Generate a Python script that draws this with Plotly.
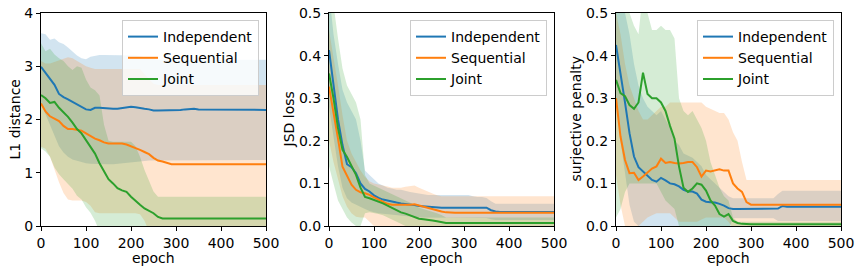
import plotly.graph_objects as go

# ---------------- data ----------------
epochs = list(range(0, 501, 10))
series_names = ["Independent", "Sequential", "Joint"]

# Panel 1: L1 distance
l1_ind_mean = [2.99, 2.88, 2.78, 2.65, 2.48, 2.42, 2.38, 2.33, 2.28, 2.23, 2.19, 2.18, 2.22, 2.22, 2.21, 2.20, 2.20, 2.20, 2.21, 2.23, 2.24, 2.23, 2.21, 2.20, 2.19, 2.17, 2.17, 2.17, 2.17, 2.17, 2.17, 2.18, 2.19, 2.20, 2.20, 2.19, 2.19, 2.18, 2.18, 2.18, 2.18, 2.18, 2.18, 2.18, 2.18, 2.18, 2.18, 2.18, 2.18, 2.18, 2.18]
l1_ind_up = [3.62, 3.60, 3.50, 3.52, 3.45, 3.42, 3.35, 3.28, 3.20, 3.15, 3.13, 3.18, 3.20, 3.21, 3.21, 3.21, 3.21, 3.21, 3.21, 3.21, 3.21, 3.20, 3.19, 3.17, 3.15, 3.13, 3.12, 3.12, 3.12, 3.12, 3.12, 3.12, 3.12, 3.12, 3.12, 3.12, 3.12, 3.12, 3.12, 3.12, 3.12, 3.12, 3.12, 3.12, 3.12, 3.12, 3.12, 3.12, 3.12, 3.12, 3.12]
l1_ind_lo = [2.30, 2.10, 1.90, 1.70, 1.50, 1.38, 1.30, 1.25, 1.22, 1.20, 1.18, 1.17, 1.16, 1.16, 1.16, 1.16, 1.16, 1.16, 1.17, 1.18, 1.19, 1.20, 1.21, 1.22, 1.23, 1.24, 1.24, 1.24, 1.24, 1.24, 1.24, 1.24, 1.24, 1.24, 1.24, 1.24, 1.24, 1.24, 1.24, 1.24, 1.24, 1.24, 1.24, 1.24, 1.24, 1.24, 1.24, 1.24, 1.24, 1.24, 1.24]
l1_seq_mean = [2.30, 2.15, 2.06, 2.02, 1.97, 1.88, 1.82, 1.82, 1.80, 1.79, 1.74, 1.69, 1.64, 1.61, 1.57, 1.55, 1.55, 1.55, 1.55, 1.53, 1.50, 1.47, 1.43, 1.39, 1.35, 1.28, 1.23, 1.21, 1.18, 1.16, 1.16, 1.16, 1.16, 1.16, 1.16, 1.16, 1.16, 1.16, 1.16, 1.16, 1.16, 1.16, 1.16, 1.16, 1.16, 1.16, 1.16, 1.16, 1.16, 1.16, 1.16]
l1_seq_up = [3.10, 3.05, 3.05, 3.08, 3.10, 3.14, 3.17, 3.15, 3.10, 3.05, 3.00, 2.97, 2.95, 2.95, 2.95, 2.95, 2.95, 2.95, 2.95, 2.95, 2.95, 2.95, 2.95, 2.85, 2.75, 2.67, 2.65, 2.65, 2.65, 2.65, 2.65, 2.65, 2.65, 2.65, 2.65, 2.65, 2.65, 2.65, 2.65, 2.65, 2.65, 2.65, 2.65, 2.65, 2.65, 2.65, 2.65, 2.65, 2.65, 2.65, 2.65]
l1_seq_lo = [1.49, 1.45, 1.30, 1.05, 0.82, 0.62, 0.50, 0.48, 0.48, 0.48, 0.45, 0.38, 0.26, 0.24, 0.24, 0.24, 0.24, 0.24, 0.24, 0.24, 0.24, 0.24, 0.22, 0.10, -0.10, -0.30, -0.33, -0.33, -0.33, -0.33, -0.33, -0.33, -0.33, -0.33, -0.33, -0.33, -0.33, -0.33, -0.33, -0.33, -0.33, -0.33, -0.33, -0.33, -0.33, -0.33, -0.33, -0.33, -0.33, -0.33, -0.33]
l1_joi_mean = [2.46, 2.40, 2.31, 2.33, 2.22, 2.14, 2.05, 1.94, 1.82, 1.74, 1.62, 1.48, 1.36, 1.18, 1.02, 0.88, 0.80, 0.71, 0.67, 0.64, 0.55, 0.47, 0.40, 0.33, 0.29, 0.24, 0.17, 0.14, 0.14, 0.14, 0.14, 0.14, 0.14, 0.14, 0.14, 0.14, 0.14, 0.14, 0.14, 0.14, 0.14, 0.14, 0.14, 0.14, 0.14, 0.14, 0.14, 0.14, 0.14, 0.14, 0.14]
l1_joi_up = [3.43, 3.28, 3.33, 3.22, 3.15, 3.10, 3.00, 2.93, 3.00, 2.97, 2.75, 2.60, 2.55, 2.45, 1.90, 1.60, 1.58, 1.58, 1.58, 1.58, 1.58, 1.50, 1.30, 1.05, 0.85, 0.65, 0.55, 0.55, 0.55, 0.55, 0.55, 0.55, 0.55, 0.55, 0.55, 0.55, 0.55, 0.55, 0.55, 0.55, 0.55, 0.55, 0.55, 0.55, 0.55, 0.55, 0.55, 0.55, 0.55, 0.55, 0.55]
l1_joi_lo = [1.46, 1.40, 1.30, 1.10, 0.97, 0.88, 0.80, 0.70, 0.57, 0.50, 0.35, 0.25, 0.10, -0.10, -0.27, -0.27, -0.27, -0.27, -0.27, -0.27, -0.27, -0.27, -0.27, -0.27, -0.27, -0.27, -0.27, -0.27, -0.27, -0.27, -0.27, -0.27, -0.27, -0.27, -0.27, -0.27, -0.27, -0.27, -0.27, -0.27, -0.27, -0.27, -0.27, -0.27, -0.27, -0.27, -0.27, -0.27, -0.27, -0.27, -0.27]

# Panel 2: JSD loss
jsd_ind_mean = [0.413, 0.33, 0.25, 0.19, 0.145, 0.138, 0.124, 0.10, 0.087, 0.081, 0.072, 0.066, 0.062, 0.060, 0.057, 0.055, 0.053, 0.052, 0.051, 0.049, 0.047, 0.046, 0.045, 0.044, 0.043, 0.043, 0.043, 0.043, 0.043, 0.043, 0.043, 0.043, 0.043, 0.043, 0.043, 0.043, 0.037, 0.034, 0.033, 0.033, 0.033, 0.033, 0.033, 0.033, 0.033, 0.033, 0.033, 0.033, 0.033, 0.033, 0.033]
jsd_ind_up = [0.55, 0.45, 0.38, 0.32, 0.29, 0.27, 0.25, 0.20, 0.13, 0.12, 0.11, 0.10, 0.095, 0.09, 0.088, 0.085, 0.085, 0.082, 0.08, 0.078, 0.076, 0.074, 0.073, 0.073, 0.073, 0.073, 0.073, 0.073, 0.073, 0.073, 0.073, 0.073, 0.07, 0.068, 0.068, 0.066, 0.058, 0.052, 0.052, 0.052, 0.052, 0.052, 0.052, 0.052, 0.052, 0.052, 0.052, 0.052, 0.052, 0.052, 0.052]
jsd_ind_lo = [0.28, 0.21, 0.14, 0.09, 0.065, 0.055, 0.05, 0.045, 0.04, 0.035, 0.032, 0.03, 0.028, 0.027, 0.026, 0.025, 0.024, 0.023, 0.022, 0.021, 0.02, 0.019, 0.019, 0.019, 0.019, 0.019, 0.019, 0.019, 0.019, 0.019, 0.019, 0.019, 0.019, 0.019, 0.019, 0.019, 0.016, 0.014, 0.014, 0.014, 0.014, 0.014, 0.014, 0.014, 0.014, 0.014, 0.014, 0.014, 0.014, 0.014, 0.014]
jsd_seq_mean = [0.327, 0.27, 0.205, 0.139, 0.118, 0.097, 0.085, 0.079, 0.077, 0.073, 0.067, 0.062, 0.056, 0.052, 0.050, 0.050, 0.049, 0.049, 0.050, 0.051, 0.048, 0.045, 0.043, 0.040, 0.037, 0.034, 0.032, 0.031, 0.031, 0.031, 0.031, 0.031, 0.031, 0.031, 0.031, 0.031, 0.031, 0.031, 0.031, 0.031, 0.031, 0.031, 0.031, 0.031, 0.031, 0.031, 0.031, 0.031, 0.031, 0.031, 0.031]
jsd_seq_up = [0.46, 0.40, 0.33, 0.26, 0.20, 0.17, 0.15, 0.13, 0.115, 0.105, 0.10, 0.097, 0.095, 0.093, 0.09, 0.09, 0.09, 0.092, 0.093, 0.095, 0.09, 0.085, 0.08, 0.076, 0.072, 0.07, 0.07, 0.07, 0.07, 0.07, 0.07, 0.07, 0.07, 0.07, 0.07, 0.07, 0.07, 0.07, 0.07, 0.07, 0.07, 0.07, 0.07, 0.07, 0.07, 0.07, 0.07, 0.07, 0.07, 0.07, 0.07]
jsd_seq_lo = [0.20, 0.15, 0.11, 0.07, 0.045, 0.03, 0.022, 0.02, 0.02, 0.01, 0.0, -0.005, -0.008, -0.008, -0.008, -0.008, -0.008, -0.008, -0.008, -0.008, -0.008, -0.008, -0.008, -0.008, -0.008, -0.008, -0.008, -0.008, -0.008, -0.008, -0.008, -0.008, -0.008, -0.008, -0.008, -0.008, -0.008, -0.008, -0.008, -0.008, -0.008, -0.008, -0.008, -0.008, -0.008, -0.008, -0.008, -0.008, -0.008, -0.008, -0.008]
jsd_joi_mean = [0.358, 0.30, 0.23, 0.179, 0.162, 0.142, 0.12, 0.09, 0.068, 0.065, 0.061, 0.058, 0.053, 0.048, 0.043, 0.037, 0.032, 0.029, 0.025, 0.020, 0.017, 0.016, 0.015, 0.013, 0.011, 0.009, 0.007, 0.007, 0.007, 0.007, 0.007, 0.007, 0.007, 0.007, 0.007, 0.007, 0.007, 0.007, 0.007, 0.007, 0.007, 0.007, 0.007, 0.007, 0.007, 0.007, 0.007, 0.007, 0.007, 0.007, 0.007]
jsd_joi_up = [0.62, 0.52, 0.44, 0.37, 0.33, 0.31, 0.29, 0.25, 0.12, 0.10, 0.095, 0.09, 0.085, 0.08, 0.075, 0.07, 0.065, 0.06, 0.055, 0.05, 0.043, 0.04, 0.037, 0.033, 0.03, 0.026, 0.02, 0.02, 0.02, 0.02, 0.02, 0.02, 0.02, 0.02, 0.02, 0.02, 0.02, 0.02, 0.02, 0.02, 0.02, 0.02, 0.02, 0.02, 0.02, 0.02, 0.02, 0.02, 0.02, 0.02, 0.02]
jsd_joi_lo = [0.14, 0.10, 0.06, 0.04, 0.02, 0.008, 0.0, 0.0, 0.03, 0.032, 0.03, 0.028, 0.025, 0.02, 0.015, 0.01, 0.005, 0.0, -0.005, -0.005, -0.005, -0.005, -0.005, -0.005, -0.005, -0.005, -0.005, -0.005, -0.005, -0.005, -0.005, -0.005, -0.005, -0.005, -0.005, -0.005, -0.005, -0.005, -0.005, -0.005, -0.005, -0.005, -0.005, -0.005, -0.005, -0.005, -0.005, -0.005, -0.005, -0.005, -0.005]

# Panel 3: surjective penalty
sp_ind_mean = [0.425, 0.36, 0.29, 0.218, 0.163, 0.138, 0.128, 0.12, 0.108, 0.104, 0.113, 0.107, 0.10, 0.098, 0.093, 0.085, 0.081, 0.081, 0.076, 0.062, 0.057, 0.056, 0.055, 0.052, 0.048, 0.042, 0.04, 0.04, 0.04, 0.04, 0.04, 0.04, 0.04, 0.04, 0.04, 0.04, 0.041, 0.047, 0.045, 0.045, 0.045, 0.045, 0.045, 0.045, 0.045, 0.045, 0.045, 0.045, 0.045, 0.045, 0.045]
sp_ind_up = [0.55, 0.52, 0.50, 0.45, 0.38, 0.33, 0.30, 0.28, 0.27, 0.26, 0.27, 0.25, 0.23, 0.20, 0.19, 0.17, 0.165, 0.16, 0.15, 0.14, 0.12, 0.11, 0.10, 0.09, 0.08, 0.07, 0.065, 0.065, 0.065, 0.065, 0.065, 0.065, 0.065, 0.065, 0.065, 0.065, 0.075, 0.083, 0.083, 0.083, 0.083, 0.083, 0.083, 0.083, 0.083, 0.083, 0.083, 0.083, 0.083, 0.083, 0.083]
sp_ind_lo = [0.30, 0.20, 0.12, 0.05, 0.01, 0.0, -0.01, -0.02, -0.02, -0.02, -0.02, -0.02, -0.02, -0.02, -0.01, -0.01, -0.01, -0.01, -0.01, -0.01, -0.01, -0.01, -0.01, -0.01, -0.01, -0.01, 0.018, 0.018, 0.018, 0.018, 0.018, 0.018, 0.018, 0.018, 0.018, 0.018, 0.012, 0.012, 0.012, 0.012, 0.012, 0.012, 0.012, 0.012, 0.012, 0.012, 0.012, 0.012, 0.012, 0.012, 0.012]
sp_seq_mean = [0.30, 0.21, 0.155, 0.124, 0.125, 0.108, 0.116, 0.125, 0.135, 0.14, 0.158, 0.148, 0.15, 0.148, 0.147, 0.148, 0.15, 0.15, 0.138, 0.116, 0.13, 0.128, 0.13, 0.133, 0.13, 0.13, 0.10, 0.088, 0.08, 0.056, 0.05, 0.05, 0.05, 0.05, 0.05, 0.05, 0.05, 0.05, 0.05, 0.05, 0.05, 0.05, 0.05, 0.05, 0.05, 0.05, 0.05, 0.05, 0.05, 0.05, 0.05]
sp_seq_up = [0.50, 0.45, 0.38, 0.33, 0.30, 0.27, 0.25, 0.25, 0.26, 0.27, 0.28, 0.28, 0.29, 0.29, 0.29, 0.29, 0.29, 0.29, 0.29, 0.29, 0.28, 0.275, 0.27, 0.265, 0.265, 0.25, 0.22, 0.20, 0.15, 0.108, 0.108, 0.108, 0.108, 0.108, 0.108, 0.108, 0.108, 0.108, 0.108, 0.108, 0.108, 0.108, 0.108, 0.108, 0.108, 0.108, 0.108, 0.108, 0.108, 0.108, 0.108]
sp_seq_lo = [0.12, 0.05, 0.0, -0.02, -0.02, 0.0, 0.01, 0.02, 0.025, 0.03, 0.03, 0.03, 0.03, 0.02, 0.01, 0.01, 0.01, 0.01, 0.01, 0.015, 0.02, 0.02, 0.02, 0.02, 0.02, 0.01, -0.005, -0.005, -0.005, -0.005, -0.005, -0.005, -0.005, -0.005, -0.005, -0.005, -0.005, -0.005, -0.005, -0.005, -0.005, -0.005, -0.005, -0.005, -0.005, -0.005, -0.005, -0.005, -0.005, -0.005, -0.005]
sp_joi_mean = [0.343, 0.312, 0.305, 0.284, 0.275, 0.29, 0.36, 0.31, 0.30, 0.30, 0.29, 0.27, 0.235, 0.205, 0.14, 0.09, 0.08, 0.088, 0.10, 0.097, 0.083, 0.06, 0.048, 0.028, 0.022, 0.028, 0.012, 0.007, 0.005, 0.004, 0.004, 0.004, 0.004, 0.004, 0.004, 0.004, 0.004, 0.004, 0.004, 0.004, 0.004, 0.004, 0.004, 0.004, 0.004, 0.004, 0.004, 0.004, 0.004, 0.004, 0.004]
sp_joi_up = [0.50, 0.52, 0.55, 0.50, 0.47, 0.45, 0.55, 0.50, 0.46, 0.46, 0.47, 0.46, 0.46, 0.44, 0.30, 0.27, 0.26, 0.27, 0.25, 0.23, 0.20, 0.15, 0.12, 0.09, 0.07, 0.06, 0.02, 0.01, 0.01, 0.01, 0.01, 0.01, 0.01, 0.01, 0.01, 0.01, 0.01, 0.01, 0.01, 0.01, 0.01, 0.01, 0.01, 0.01, 0.01, 0.01, 0.01, 0.01, 0.01, 0.01, 0.01]
sp_joi_lo = [0.02, 0.04, 0.08, 0.10, 0.10, 0.10, 0.10, 0.10, 0.10, 0.10, 0.08, 0.06, 0.05, 0.04, 0.0, -0.01, -0.01, -0.01, -0.01, -0.01, -0.01, -0.01, -0.01, -0.01, -0.01, -0.01, -0.003, -0.003, -0.003, -0.003, -0.003, -0.003, -0.003, -0.003, -0.003, -0.003, -0.003, -0.003, -0.003, -0.003, -0.003, -0.003, -0.003, -0.003, -0.003, -0.003, -0.003, -0.003, -0.003, -0.003, -0.003]

y_titles = ["L1 distance", "JSD loss", "surjective penalty"]
x_title = "epoch"
l1_ticks = [0, 1, 2, 3, 4]
small_ticks = [0.0, 0.1, 0.2, 0.3, 0.4, 0.5]
x_ticks = [0, 100, 200, 300, 400, 500]

# ---------------- styling ----------------
colors = ["#1f77b4", "#ff7f0e", "#2ca02c"]
fills = ["rgba(31,119,180,0.2)", "rgba(255,127,14,0.2)", "rgba(44,160,44,0.2)"]
FONT = "DejaVu Sans"

panels = [
    dict(means=[l1_ind_mean, l1_seq_mean, l1_joi_mean], ups=[l1_ind_up, l1_seq_up, l1_joi_up],
         los=[l1_ind_lo, l1_seq_lo, l1_joi_lo], yrange=[0, 4], ticks=l1_ticks, fmt="d"),
    dict(means=[jsd_ind_mean, jsd_seq_mean, jsd_joi_mean], ups=[jsd_ind_up, jsd_seq_up, jsd_joi_up],
         los=[jsd_ind_lo, jsd_seq_lo, jsd_joi_lo], yrange=[0, 0.5], ticks=small_ticks, fmt=".1f"),
    dict(means=[sp_ind_mean, sp_seq_mean, sp_joi_mean], ups=[sp_ind_up, sp_seq_up, sp_joi_up],
         los=[sp_ind_lo, sp_seq_lo, sp_joi_lo], yrange=[0, 0.5], ticks=small_ticks, fmt=".1f"),
]

# page body margin is removed (post_script), so pixel positions are page positions
W, H = 861, 272
ML, MT = 41, 13
PLOT_R, PLOT_B = 841, 226
MR, MB = W - PLOT_R, H - PLOT_B
PW = W - ML - MR
PH = H - MT - MB
domains = [[0.0, 225 / PW], [(329 - 41) / PW, (554 - 41) / PW], [(616 - 41) / PW, 1.0]]
legend_right_px = [259 - 41, 547 - 41, 834 - 41]
ytitle_shift = [-27, -41, -41]

fig = go.Figure()
layout = dict(
    width=W, height=H, margin=dict(l=ML, r=MR, t=MT, b=MB, pad=0, autoexpand=False),
    paper_bgcolor="white", plot_bgcolor="white",
    font=dict(family=FONT, size=14, color="black"),
    showlegend=True, annotations=[],
)

for p, panel in enumerate(panels):
    sfx = "" if p == 0 else str(p + 1)
    xa, ya = "x" + sfx, "y" + sfx
    leg = "legend" + sfx
    for s in range(3):
        fig.add_trace(go.Scatter(
            x=epochs + epochs[::-1], y=panel["ups"][s] + panel["los"][s][::-1],
            fill="toself", fillcolor=fills[s], line=dict(width=0), mode="lines",
            showlegend=False, hoverinfo="skip", xaxis=xa, yaxis=ya))
    for s in range(3):
        fig.add_trace(go.Scatter(
            x=epochs, y=panel["means"][s], mode="lines", name=series_names[s],
            line=dict(color=colors[s], width=2), xaxis=xa, yaxis=ya, legend=leg))
    axis_common = dict(showline=True, linecolor="black", linewidth=1, mirror=True,
                       ticks="outside", ticklen=4, tickwidth=1, tickcolor="black",
                       showgrid=False, zeroline=False, automargin=False,
                       ticklabeloverflow="allow",
                       tickfont=dict(family=FONT, size=14, color="black"))
    layout["xaxis" + sfx] = dict(axis_common, domain=domains[p], range=[0, 500], tickvals=x_ticks,
                                 anchor=ya)
    layout["yaxis" + sfx] = dict(axis_common, domain=[0, 1], range=panel["yrange"],
                                 tickvals=panel["ticks"], tickformat=panel["fmt"], anchor=xa)
    layout[leg] = dict(x=legend_right_px[p] / PW, y=1 - 7 / PH,
                       xanchor="right", yanchor="top", bgcolor="rgba(255,255,255,0.8)",
                       bordercolor="#cccccc", borderwidth=1,
                       font=dict(family=FONT, size=14, color="black"))
    cx = (domains[p][0] + domains[p][1]) / 2
    layout["annotations"].append(dict(text=x_title, xref="paper", yref="paper", x=cx, y=0,
                                      xanchor="center", yanchor="middle", yshift=-32,
                                      showarrow=False, font=dict(family=FONT, size=14, color="black")))
    layout["annotations"].append(dict(text=y_titles[p], xref="paper", yref="paper", x=domains[p][0],
                                      y=0.5, xanchor="center", yanchor="middle", textangle=-90,
                                      xshift=ytitle_shift[p], showarrow=False,
                                      font=dict(family=FONT, size=14, color="black")))

fig.update_layout(**layout)
fig.write_html("out.html", config={"displayModeBar": False},
               post_script="document.body.style.margin='0px';")
